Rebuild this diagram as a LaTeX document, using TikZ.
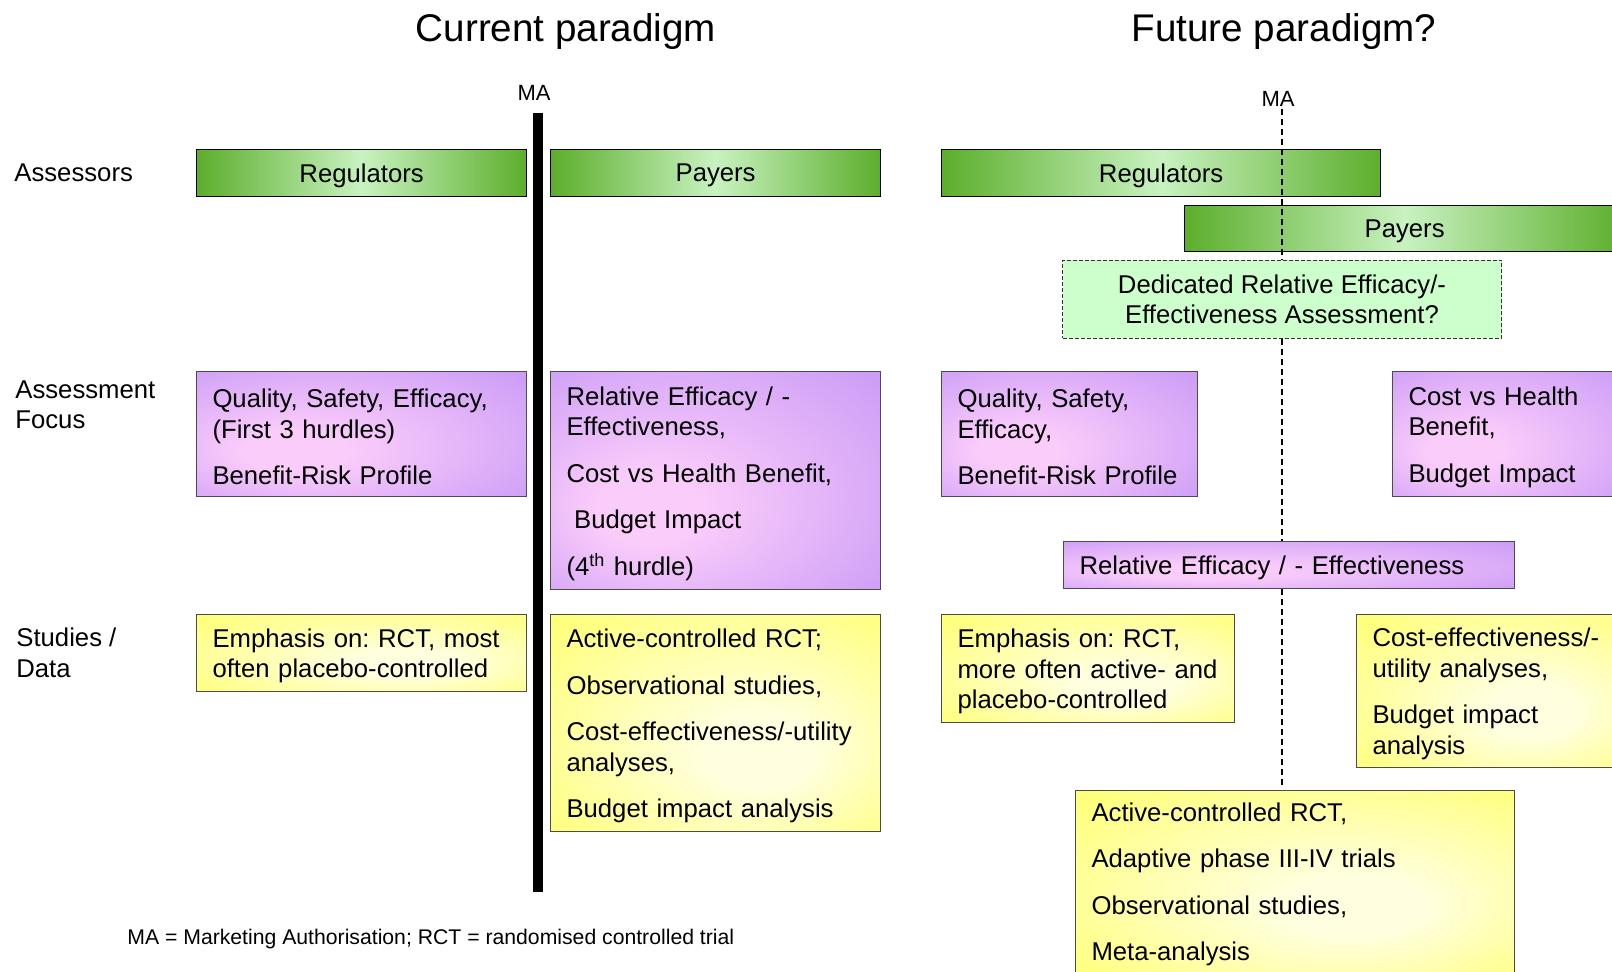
\documentclass[tikz,border=0pt]{standalone}
\usepackage{fontspec}
\setmainfont{Liberation Sans}
\usepackage{xcolor}
\frenchspacing

\definecolor{gdark}{RGB}{92,174,44}
\definecolor{glight}{RGB}{200,242,192}
\definecolor{pin}{RGB}{250,204,250}
\definecolor{pout}{RGB}{198,150,246}
\definecolor{yin}{RGB}{255,255,224}
\definecolor{yout}{RGB}{255,255,102}
\definecolor{dedgreen}{RGB}{204,255,204}

\pgfdeclareradialshading{purpleglow}{\pgfpoint{-12bp}{-8bp}}{color(0bp)=(pin); color(8bp)=(pin); color(42bp)=(pout); color(50bp)=(pout)}
\pgfdeclareradialshading{yellowglow}{\pgfpoint{8bp}{-8bp}}{color(0bp)=(yin); color(8bp)=(yin); color(42bp)=(yout); color(50bp)=(yout)}

\newcommand{\bodyfont}{\fontsize{12.85pt}{15.25pt}\selectfont}
\newcommand{\pgap}{\\[8pt]}
\newcommand{\tstrut}{\rule{0pt}{12.4pt}}

\begin{document}
\begin{tikzpicture}[
  x=0.5pt, y=-0.5pt,
  title/.style={font=\fontsize{19.3pt}{23pt}\selectfont},
  rowlab/.style={anchor=west, align=left, inner xsep=0pt, font=\bodyfont},
  malab/.style={font=\fontsize{11pt}{13pt}\selectfont},
  gbox/.style={draw=black, line width=0.6pt, left color=gdark, right color=gdark, middle color=glight,
    anchor=north west, inner sep=0pt, text depth=0pt, font=\bodyfont},
  pbox/.style={draw=black!70, line width=0.5pt, shade, shading=purpleglow, anchor=north west,
    align=left, inner xsep=8pt, inner ysep=0pt, font=\bodyfont},
  ybox/.style={draw=black!70, line width=0.5pt, shade, shading=yellowglow, anchor=north west,
    align=left, inner xsep=8pt, inner ysep=0pt, font=\bodyfont},
  dbox/.style={draw=black!80, line width=0.5pt, dash pattern=on 2pt off 1pt, fill=dedgreen,
    anchor=north west, align=center, inner sep=0pt, font=\bodyfont}
]
  \useasboundingbox (0,0) rectangle (1612,972);
  \clip (0,0) rectangle (1612,972);

  % Headings
  \node[title] (curT) at (566,32) {Current paradigm};
  \node[title] (futT) at (1284,32) {Future paradigm?};

  % Row labels
  \node[rowlab] (assessors) at (14,173) {Assessors};
  \node[rowlab] (focus) at (15,405) {Assessment\\Focus};
  \node[rowlab] (studies) at (16,653) {Studies /\\Data};

  % Current paradigm
  \node[malab] (maL) at (534,93) {MA};
  \coordinate (maLtop) at (538,113);
  \coordinate (maLbot) at (538,892);
  \draw[line width=5pt] (maLtop) -- (maLbot);

  \node[gbox, minimum width=165pt, minimum height=23.5pt] (regL) at (196,149) {Regulators};
  \node[gbox, minimum width=165pt, minimum height=23.5pt] (payL) at (550,149) {Payers};

  \node[pbox, minimum width=165pt, minimum height=62.5pt, text width=149pt] (qualL) at (196,371)
    {\tstrut Quality, Safety, Efficacy,\\(First 3 hurdles)\pgap Benefit-Risk Profile};
  \node[pbox, minimum width=165pt, minimum height=109pt, text width=149pt] (releffL) at (550,371)
    {\tstrut Relative Efficacy / -\\Effectiveness,\pgap Cost vs Health Benefit,\pgap
     \hspace*{0.3em}Budget Impact\pgap (4\textsuperscript{th} hurdle)};

  \node[ybox, minimum width=165pt, minimum height=38.5pt, text width=149pt] (emphL) at (196,614)
    {\tstrut Emphasis on: RCT, most\\often placebo-controlled};
  \node[ybox, minimum width=165pt, minimum height=108.5pt, text width=149pt] (activeL) at (550,614)
    {\tstrut Active-controlled RCT;\pgap Observational studies,\pgap Cost-effectiveness/-utility\\analyses,\pgap
     Budget impact analysis};

  % Future paradigm
  \node[malab] (maR) at (1278,99) {MA};
  \node[gbox, minimum width=219.5pt, minimum height=23.5pt] (regR) at (941,149) {Regulators};
  \node[gbox, minimum width=220pt, minimum height=23pt] (payR) at (1184,205) {Payers};

  \coordinate (maRtop) at (1282,109);
  \coordinate (maRbot) at (1282,786);
  \draw[line width=0.75pt, dash pattern=on 3pt off 2pt] (maRtop) -- (maRbot);

  \node[dbox, minimum width=219.5pt, minimum height=39pt] (dedic) at (1062,260)
    {Dedicated Relative Efficacy/-\\Effectiveness Assessment?};

  \node[pbox, minimum width=128pt, minimum height=62.5pt, text width=112pt] (qualR) at (941,371)
    {\tstrut Quality, Safety,\\Efficacy,\pgap Benefit-Risk Profile};
  \node[pbox, minimum width=120pt, minimum height=62.5pt, text width=104pt] (costR) at (1392,371)
    {\tstrut Cost vs Health\\Benefit,\pgap Budget Impact};
  \node[pbox, minimum width=225.5pt, minimum height=23.5pt, text width=209.5pt, text depth=0pt] (releffR) at (1063,541)
    {Relative Efficacy / - Effectiveness};

  \node[ybox, minimum width=146.5pt, minimum height=54pt, text width=130.5pt] (emphR) at (941,614)
    {\tstrut Emphasis on: RCT,\\more often active- and\\placebo-controlled};
  \node[ybox, minimum width=138pt, minimum height=76.5pt, text width=122pt] (costeffR) at (1356,614)
    {\tstrut Cost-effectiveness/-\\utility analyses,\pgap Budget impact\\analysis};
  \node[ybox, minimum width=219.5pt, minimum height=91pt, text width=203.5pt] (activeR) at (1075,790)
    {\tstrut Active-controlled RCT,\pgap Adaptive phase III-IV trials\pgap Observational studies,\pgap Meta-analysis};

  % Footnote
  \node[malab, anchor=west, inner xsep=0pt, font=\fontsize{10.6pt}{12.5pt}\selectfont] (note) at (127,939)
    {MA = Marketing Authorisation; RCT = randomised controlled trial};
\end{tikzpicture}
\end{document}
